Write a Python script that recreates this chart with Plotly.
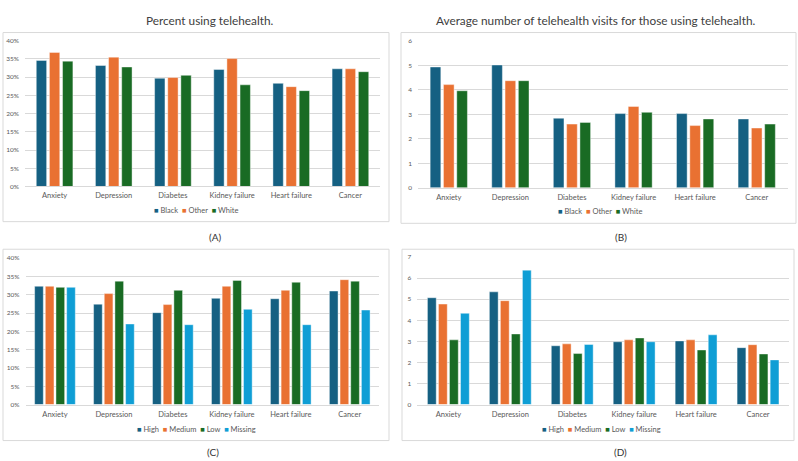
import plotly.graph_objects as go

W, H = 798, 461

categories = ["Anxiety", "Depression", "Diabetes", "Kidney failure", "Heart failure", "Cancer"]

race_names = ["Black", "Other", "White"]
pct_black = [34.6, 33.2, 29.7, 32.1, 28.3, 32.3]
pct_other = [36.8, 35.5, 29.9, 35.1, 27.4, 32.3]
pct_white = [34.4, 32.8, 30.5, 27.9, 26.3, 31.5]
visits_black = [4.93, 5.01, 2.84, 3.03, 3.03, 2.81]
visits_other = [4.21, 4.37, 2.60, 3.32, 2.54, 2.44]
visits_white = [3.96, 4.37, 2.67, 3.08, 2.81, 2.60]

level_names = ["High", "Medium", "Low", "Missing"]
pct_high = [32.3, 27.4, 25.1, 29.0, 28.9, 31.0]
pct_medium = [32.3, 30.3, 27.3, 32.3, 31.2, 34.1]
pct_low = [32.0, 33.7, 31.2, 33.9, 33.4, 33.7]
pct_missing = [32.0, 22.0, 21.8, 26.0, 21.8, 25.8]
visits_high = [5.07, 5.35, 2.79, 2.98, 3.02, 2.70]
visits_medium = [4.77, 4.93, 2.88, 3.07, 3.07, 2.84]
visits_low = [3.07, 3.35, 2.42, 3.16, 2.59, 2.40]
visits_missing = [4.33, 6.38, 2.85, 2.98, 3.31, 2.12]

colors = ["#156082", "#E97132", "#196B24", "#0F9ED5"]

FONT = "Lato"
GRID = "#d9d9d9"
TXT = "#595959"


def fx(px):
    return px / W


def fy(py):
    return 1 - py / H


panels = [
    dict(ax="", names=race_names, series=[pct_black, pct_other, pct_white],
         yr=[0, 40], dtick=5, suffix="%", plot=(25, 380, 37.3, 185.3), bw=0.175, pitch=0.222,
         box=(3, 389, 29, 221), legend=(196, 210), label=("(A)", 215, 237),
         title=("Percent using telehealth.", 210, 16.7)),
    dict(ax="2", names=race_names, series=[visits_black, visits_other, visits_white],
         yr=[0, 6], dtick=1, suffix="", plot=(418, 787.5, 37.3, 186.7), bw=0.173, pitch=0.216,
         box=(401, 796, 29, 222.7), legend=(600, 211), label=("(B)", 620.7, 237),
         title=("Average number of telehealth visits for those using telehealth.", 595, 16.7)),
    dict(ax="3", names=level_names, series=[pct_high, pct_medium, pct_low, pct_missing],
         yr=[0, 40], dtick=5, suffix="%", plot=(25.5, 379.2, 258, 406.7), bw=0.147, pitch=0.181,
         box=(3, 389, 249, 443.3), legend=(196, 431.7), label=("(C)", 213, 455),
         title=None),
    dict(ax="4", names=level_names, series=[visits_high, visits_medium, visits_low, visits_missing],
         yr=[0, 7], dtick=1, suffix="", plot=(417.4, 789, 257, 406.7), bw=0.142, pitch=0.178,
         box=(402, 794, 249, 443.3), legend=(601, 431.7), label=("(D)", 620.7, 455),
         title=None),
]

fig = go.Figure()
shapes = []
annotations = []

for p in panels:
    n = len(p["series"])
    for i, (name, vals) in enumerate(zip(p["names"], p["series"])):
        center = (i - (n - 1) / 2) * p["pitch"]
        fig.add_trace(go.Bar(
            x=categories, y=vals, name=name,
            marker=dict(color=colors[i], line=dict(width=0.6, color="rgba(255,255,255,0.7)")),
            width=p["bw"], offset=center - p["bw"] / 2,
            xaxis="x" + p["ax"], yaxis="y" + p["ax"], showlegend=False,
        ))
    x0, x1, y0, y1 = p["plot"]
    xa = "xaxis" + p["ax"]
    ya = "yaxis" + p["ax"]
    fig.layout[xa] = dict(
        domain=[fx(x0), fx(x1)], anchor="y" + p["ax"], type="category",
        range=[-0.5, 5.5], showgrid=False, showline=True, linecolor=GRID, linewidth=1,
        ticks="", tickfont=dict(family=FONT, size=7.5, color=TXT), ticklabelstandoff=2,
    )
    fig.layout[ya] = dict(
        domain=[fy(y1), fy(y0)], anchor="x" + p["ax"], range=p["yr"], dtick=p["dtick"],
        ticksuffix=p["suffix"], showgrid=True, gridcolor=GRID, gridwidth=1,
        zeroline=False, showline=False, ticks="",
        tickfont=dict(family=FONT, size=6.5, color=TXT), ticklabelstandoff=5,
    )
    bx0, bx1, by0, by1 = p["box"]
    shapes.append(dict(type="rect", xref="paper", yref="paper", x0=fx(bx0), x1=fx(bx1),
                       y0=fy(by1), y1=fy(by0), line=dict(color=GRID, width=1),
                       fillcolor="rgba(0,0,0,0)", layer="below"))
    # compact legend as text
    parts = []
    for i, name in enumerate(p["names"]):
        parts.append(f"<span style='color:{colors[i]}'>■</span> {name}")
    lx, ly = p["legend"]
    annotations.append(dict(text="  ".join(parts), x=fx(lx), y=fy(ly), xref="paper", yref="paper",
                            showarrow=False, xanchor="center", yanchor="middle",
                            font=dict(family=FONT, size=7.5, color=TXT)))
    lab, labx, laby = p["label"]
    annotations.append(dict(text=lab, x=fx(labx), y=fy(laby), xref="paper", yref="paper",
                            showarrow=False, xanchor="center", yanchor="middle",
                            font=dict(family=FONT, size=10, color="#333333")))
    if p["title"]:
        t, tx, ty = p["title"]
        annotations.append(dict(text=t, x=fx(tx), y=fy(ty), xref="paper", yref="paper",
                                showarrow=False, xanchor="center", yanchor="middle",
                                font=dict(family=FONT, size=11.8, color="#404040")))

fig.update_layout(
    width=W, height=H, margin=dict(l=0, r=0, t=0, b=0),
    paper_bgcolor="white", plot_bgcolor="white",
    barmode="overlay", showlegend=False,
    shapes=shapes, annotations=annotations,
    font=dict(family=FONT),
)

fig.write_html(
    "out.html",
    config={"displayModeBar": False},
    post_script="document.body.style.margin='0';document.body.style.overflow='hidden';",
)
